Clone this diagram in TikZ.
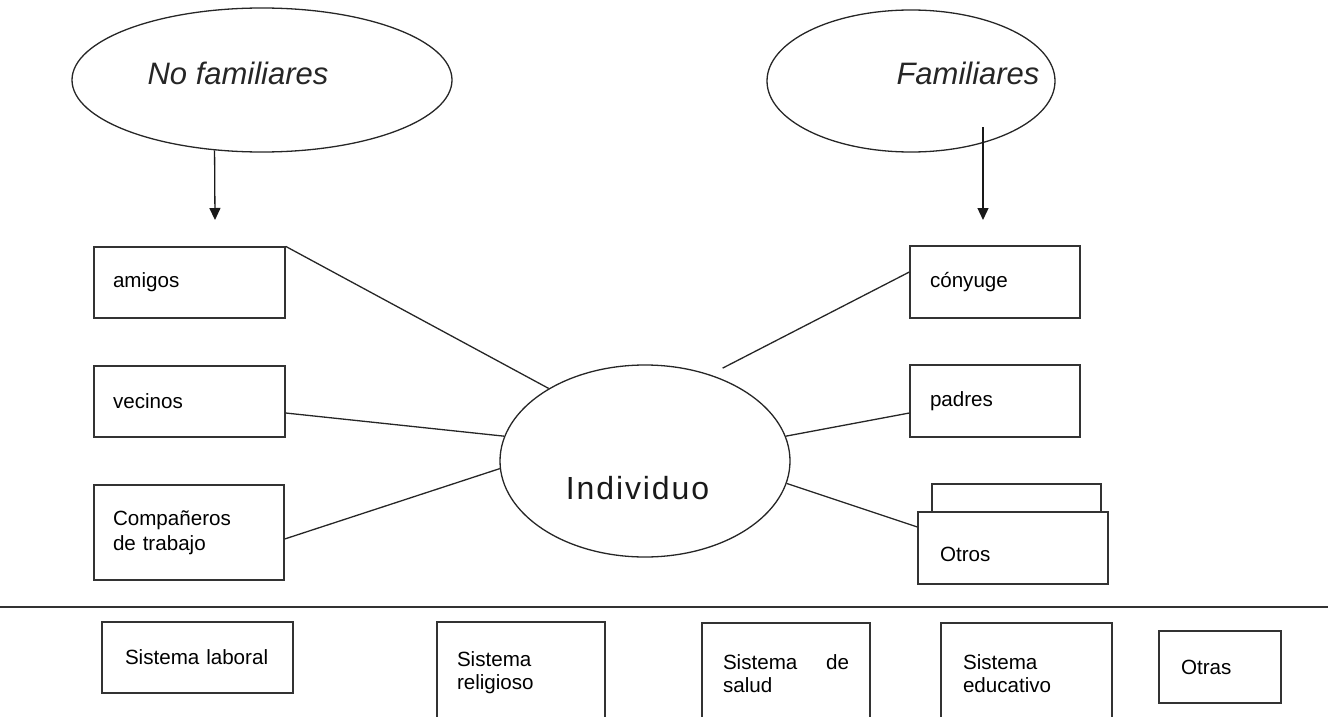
\documentclass[tikz,border=0pt]{standalone}
\usepackage{fontspec}
\setmainfont{Liberation Sans}
\newfontfamily\indfont[LetterSpace=6]{Liberation Sans}
\usetikzlibrary{shapes.geometric,arrows.meta}
\begin{document}
\begin{tikzpicture}[x=1pt,y=-1pt,
  ln/.style={line width=1.3pt, draw=black!85},
  bx/.style={draw=black!80, line width=1.3pt, rectangle, align=left, font=\fontsize{20.6}{25}\selectfont, inner ysep=0pt},
  bx2/.style={bx, font=\fontsize{20.6}{23}\selectfont},
  ov/.style={draw=black!85, line width=1.3pt, ellipse, inner sep=0pt},
  arr/.style={line width=1.3pt, draw=black!90, -{Triangle[length=12pt,width=11pt]}},
]
\useasboundingbox (0,0) rectangle (1330,717);

% top ellipses
\node[ov, minimum width=380pt, minimum height=144pt,
  label={[font=\itshape\fontsize{31}{32}\selectfont, text=black!85, xshift=-24pt, yshift=7pt]center:No familiares}] (NF) at (262,80) {};
\node[ov, minimum width=288pt, minimum height=142pt,
  label={[font=\itshape\fontsize{31}{32}\selectfont, text=black!85, xshift=57pt, yshift=8pt]center:Familiares}] (F) at (911,81) {};

% central ellipse
\node[ov, minimum width=290pt, minimum height=192pt,
  label={[font=\indfont\fontsize{32}{34}\selectfont, text=black!90, xshift=-7.5pt, yshift=-27pt]center:Individuo}] (I) at (645,461) {};

% left boxes
\node[bx, text width=153pt, inner xsep=19pt, minimum height=71pt] (amigos) at (189.5,282.5) {amigos};
\node[bx, text width=153pt, inner xsep=19pt, minimum height=71pt] (vecinos) at (189.5,401.5) {vecinos};
\node[bx, text width=152pt, inner xsep=19pt, minimum height=95pt] (comp) at (189,532.5) {Compañeros\\de trabajo};

% right boxes
\node[bx, text width=130pt, inner xsep=20pt, minimum height=72pt] (cony) at (995,282) {cónyuge};
\node[bx, text width=130pt, inner xsep=20pt, minimum height=72pt] (padres) at (995,401) {padres};
\node[bx, minimum width=169pt, minimum height=28pt, inner sep=0pt] (otrosb) at (1016.5,498) {};
\node[bx, text width=146pt, inner xsep=22pt, minimum height=72pt, text height=27pt] (otros) at (1013,548) {Otros};

% arrows
\coordinate (a1e) at (215,220);
\coordinate (a2s) at (983,127);
\coordinate (a2e) at (983,220);
\draw[arr] (NF.236) -- (a1e);
\draw[arr] (a2s) -- (a2e);

% connectors
\draw[ln] (amigos.north east) -- (I.143);
\draw[ln] ([yshift=-11.5pt]vecinos.east) -- (I.170);
\draw[ln] ([yshift=-6.5pt]comp.east) -- (I.183.5);
\draw[ln, shorten >=14pt] ([yshift=10pt]cony.west) -- (I.53);
\draw[ln] ([yshift=-12pt]padres.west) -- (I.10);
\draw[ln] ([yshift=21pt]otros.west) -- (I.-9);

% separator
\coordinate (h1) at (0,607);
\coordinate (h2) at (1328,607);
\draw[line width=2.5pt, draw=black!80] (h1) -- (h2);

% bottom boxes
\node[bx, text width=145pt, inner xsep=23pt, minimum height=71pt] (lab) at (197.5,657.5) {Sistema laboral};
\node[bx2, text width=128pt, inner xsep=20pt, minimum height=101pt] (rel) at (521,672.5) {Sistema\\religioso};
\node[bx2, text width=126pt, inner xsep=21pt, minimum height=101pt] (sal) at (786,673.5) {Sistema\hfill de\\salud};
\node[bx2, text width=127pt, inner xsep=22pt, minimum height=101pt] (edu) at (1026.5,673.5) {Sistema\\educativo};
\node[bx, text width=78pt, inner xsep=22pt, minimum height=72pt] (otras) at (1220,667) {Otras};
\end{tikzpicture}
\end{document}
